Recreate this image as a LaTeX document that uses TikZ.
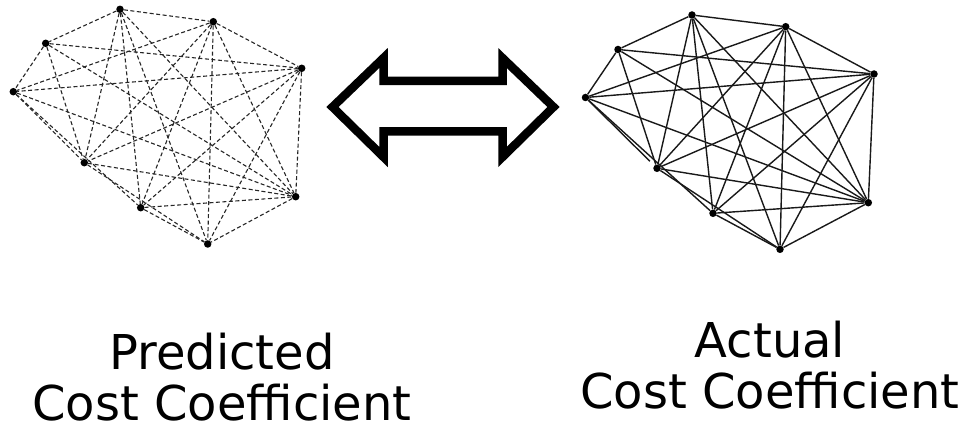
\documentclass[tikz,border=0pt]{standalone}
\usepackage{fontspec}
\setmainfont{DejaVu Sans}
\begin{document}
\begin{tikzpicture}[x=1pt,y=-1pt,
  dot/.style={circle,fill=black,inner sep=0pt,minimum size=7.5pt},
  dashedge/.style={draw=black!85,dash pattern=on 4pt off 2.5pt,line width=1.1pt},
  solidedge/.style={draw=black!90,line width=1.4pt},
  bigarrow/.style={draw=black,line width=8.5pt,line join=miter,miter limit=10},
  lbl/.style={font=\fontsize{48}{53}\selectfont,inner sep=0pt,anchor=base}]
\useasboundingbox (0,0) rectangle (972,430);
% left graph (predicted)
\foreach \n/\x/\y in {A/120/9.3, B/213.3/21.7, C/45.7/43.3, D/301.7/68.3, E/13.3/91.7,
  F/84.3/162.7, G/140.7/207.7, H/295.7/196.7, I/207.7/244}
  \node[dot] (L\n) at (\x,\y) {};
% right graph (actual)
\foreach \n/\x/\y in {A/692/15, B/785.7/26.7, C/618/49.5, D/874/74, E/585.5/97.5,
  F/657/168.3, G/713/213.3, H/868.3/202.7, I/780/249.3}
  \node[dot] (R\n) at (\x,\y) {};
\foreach \a/\b in {A/B, A/C, A/F, A/G, A/H, A/I, B/D, B/E, B/F, B/G, B/H, B/I,
  C/D, C/E, C/F, C/H, D/E, D/F, D/G, D/H, D/I, E/F, E/G, E/H, F/H, F/I, G/H, G/I, H/I}
  \draw[dashedge] (L\a) -- (L\b);
\foreach \a/\b in {A/B, A/C, A/F, A/G, A/H, A/I, B/D, B/E, B/F, B/G, B/H, B/I,
  C/D, C/E, C/F, C/H, D/E, D/F, D/G, D/H, D/I, E/G, E/H, F/H, F/I, G/H, G/I, H/I}
  \draw[solidedge] (R\a) -- (R\b);
\draw[solidedge,shorten >=6pt] (RE) -- (RF);
% double arrow
\draw[bigarrow] (332.5,107) -- (383.5,58) -- (383.5,81) -- (502.5,81) -- (502.5,58)
  -- (553.5,107) -- (502.5,157) -- (502.5,131.5) -- (383.5,131.5) -- (383.5,157) -- cycle;
% labels
\node[lbl] (predA) at (222,369) {Predicted};
\node[lbl] (predB) at (222,420) {Cost Coefficient};
\node[lbl] (actA) at (770,357) {Actual};
\node[lbl] (actB) at (770,408) {Cost Coefficient};
\end{tikzpicture}
\end{document}
